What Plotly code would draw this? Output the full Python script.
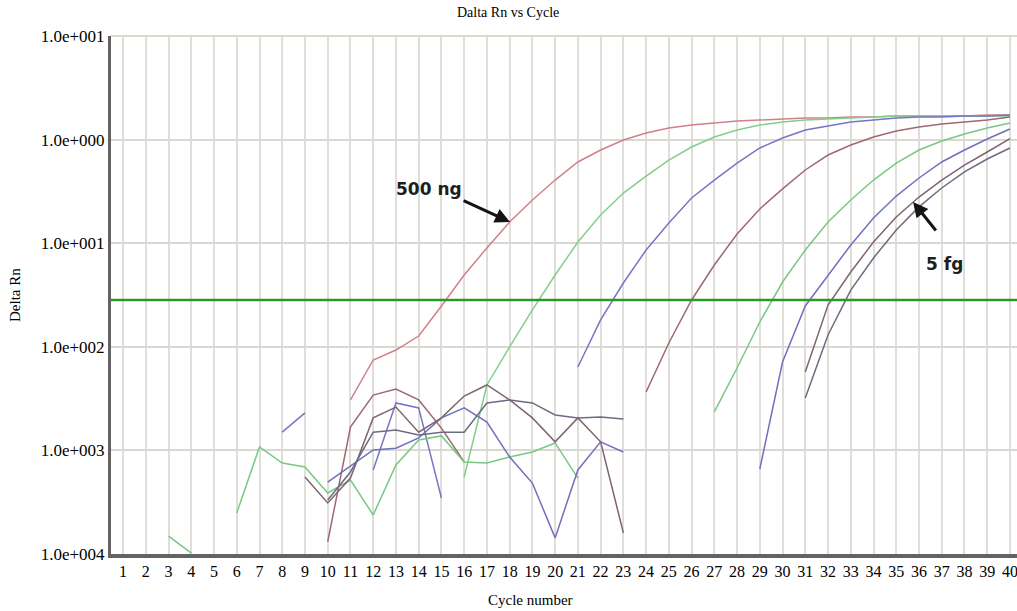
import math
import plotly.graph_objects as go

N = None
cycles = list(range(1, 41))
cycle_labels = [str(c) for c in cycles]

# Delta Rn per cycle (None = not drawn)
pink_500ng = [N]*10 + [0.00307, 0.00746, 0.00931, 0.0127, 0.0248, 0.0493, 0.0899, 0.160, 0.261, 0.407,
                       0.608, 0.794, 0.991, 1.158, 1.294, 1.383, 1.446, 1.512, 1.546, 1.580,
                       1.616, 1.616, 1.653, 1.653, 1.690, 1.690, 1.690, 1.690, 1.728, 1.728]
green_a = [N]*15 + [0.000553, 0.00428, 0.00996, 0.0227, 0.0493, 0.1027, 0.187, 0.305, 0.445, 0.635,
                    0.848, 1.060, 1.238, 1.383, 1.479, 1.546, 1.580, 1.616, 1.653, 1.690,
                    1.690, 1.690, 1.690, 1.690, 1.690]
blue_a = [N, N, N, N, N, N, N, 0.00150, 0.00230, N,
          N, 0.000647, 0.00287, 0.00257, 0.000347, N, N, N, N, N,
          0.00638, 0.01815, 0.0413, 0.0860, 0.157, 0.273, 0.407, 0.594, 0.830, 1.036,
          1.238, 1.353, 1.479, 1.546, 1.616, 1.653, 1.653, 1.690, 1.690, 1.728]
mauve = [N, N, N, N, N, N, N, N, N, 0.000131,
         0.00168, 0.00342, 0.00391, 0.00307, 0.00164, 0.000773, N, N, N, N,
         N, N, N, 0.00366, 0.01088, 0.0283, 0.0616, 0.1227, 0.214, 0.334,
         0.509, 0.710, 0.887, 1.060, 1.211, 1.323, 1.415, 1.479, 1.546, 1.653]
green_b = [N, N, 0.000149, 0.000102, N, 0.000249, 0.00108, 0.000756, 0.000692, 0.000388,
           0.000518, 0.000238, 0.000723, 0.00126, 0.00138, 0.000773, 0.000756, 0.000864, 0.000965, 0.00118,
           0.000541, N, N, N, N, N, 0.00235, 0.00624, 0.01736, 0.0422,
           0.0860, 0.160, 0.261, 0.407, 0.594, 0.794, 0.969, 1.133, 1.294, 1.446]
blue_b = [N, N, N, N, N, N, N, N, N, 0.000495,
          0.000707, 0.00101, 0.00105, 0.00132, 0.00206, 0.00257, 0.00188, 0.000864, 0.000484, 0.000143,
          0.000647, 0.00121, 0.000965, N, N, N, N, N, 0.000661, 0.00713,
          0.0248, 0.0493, 0.0961, 0.175, 0.285, 0.426, 0.608, 0.794, 1.013, 1.266]
gray_a = [N, N, N, N, N, N, N, N, 0.000553, 0.000311,
          0.000541, 0.00206, 0.00262, 0.00150, 0.00206, 0.00335, 0.00428, 0.00307, 0.00206, 0.00121,
          0.00206, 0.00121, 0.000160, N, N, N, N, N, N, N,
          0.00571, 0.0253, 0.0527, 0.1027, 0.179, 0.279, 0.407, 0.568, 0.759, 1.02]
gray_b = [N, N, N, N, N, N, N, N, N, 0.000332,
          0.000619, 0.00150, 0.00157, 0.00141, 0.00150, 0.00150, 0.00287, 0.00307, 0.00287, 0.00220,
          0.00206, 0.00210, 0.00201, N, N, N, N, N, N, N,
          0.00320, 0.0130, 0.0353, 0.0720, 0.134, 0.224, 0.341, 0.487, 0.650, 0.830]

threshold = 0.0283

y_tickvals = [10, 1, 0.1, 0.01, 0.001, 0.0001]
y_ticktext = ["1.0e+001", "1.0e+000", "1.0e+001", "1.0e+002", "1.0e+003", "1.0e+004"]

series = [
    (pink_500ng, "rgb(208,128,140)"),
    (green_a, "rgb(128,208,140)"),
    (blue_a, "rgb(118,118,200)"),
    (mauve, "rgb(158,104,116)"),
    (green_b, "rgb(120,200,132)"),
    (blue_b, "rgb(112,112,190)"),
    (gray_a, "rgb(128,100,110)"),
    (gray_b, "rgb(112,106,128)"),
]

x_range = [0.47, 40.31]
serif = "Liberation Serif"

fig = go.Figure()
for vals, col in series:
    fig.add_trace(go.Scatter(x=cycles, y=vals, mode="lines", connectgaps=False,
                             line=dict(color=col, width=1.5), showlegend=False, hoverinfo="skip"))

fig.add_trace(go.Scatter(x=x_range, y=[threshold, threshold], mode="lines",
                         line=dict(color="rgb(46,150,46)", width=2.6), showlegend=False, hoverinfo="skip"))

fig.update_layout(
    width=1017, height=611,
    margin=dict(l=111, r=0, t=36, b=57),
    paper_bgcolor="white", plot_bgcolor="white",
    showlegend=False,
    xaxis=dict(range=x_range, tickmode="array", tickvals=cycles, ticktext=cycle_labels,
               showgrid=True, gridcolor="rgb(224,222,216)", gridwidth=2,
               showline=True, linecolor="rgb(100,98,98)", linewidth=4,
               ticks="", zeroline=False, automargin=False, ticklabeloverflow="allow",
               tickfont=dict(family=serif, size=16, color="black")),
    yaxis=dict(type="log", range=[-4, 1], tickmode="array", tickvals=y_tickvals, ticktext=y_ticktext,
               showgrid=True, gridcolor="rgb(218,216,210)", gridwidth=2,
               showline=True, linecolor="rgb(100,98,98)", linewidth=3,
               ticks="", zeroline=False, automargin=False,
               tickfont=dict(family=serif, size=17, color="black")),
    shapes=[dict(type="line", xref="paper", yref="paper", x0=0, x1=1, y0=1, y1=1,
                 line=dict(color="rgb(220,216,204)", width=2))],
)

annotations = [
    dict(text="Dalta Rn vs Cycle", xref="paper", yref="paper", x=0.438, y=1.046,
         showarrow=False, font=dict(family=serif, size=14, color="black"), xanchor="center", yanchor="middle"),
    dict(text="Cycle number", xref="paper", yref="paper", x=0.4625, y=-0.089,
         showarrow=False, font=dict(family=serif, size=15, color="black"), xanchor="center", yanchor="middle"),
    dict(text="Delta Rn", xref="paper", yref="paper", x=-0.106, y=0.5, textangle=-90,
         showarrow=False, font=dict(family=serif, size=15, color="black"), xanchor="center", yanchor="middle"),
    dict(text="<b>500 ng</b>", x=14.45, y=math.log10(0.333), showarrow=False,
         font=dict(family="DejaVu Sans", size=17, color="rgb(30,30,30)")),
    dict(text="", x=18.02, y=math.log10(0.160), ax=-48, ay=-22, showarrow=True,
         arrowhead=2, arrowsize=1, arrowwidth=3, arrowcolor="rgb(20,20,20)"),
    dict(text="<b>5 fg</b>", x=37.1, y=math.log10(0.063), showarrow=False,
         font=dict(family="DejaVu Sans", size=17, color="rgb(30,30,30)")),
    dict(text="", x=35.74, y=math.log10(0.250), ax=24, ay=30, showarrow=True,
         arrowhead=2, arrowsize=1, arrowwidth=3, arrowcolor="rgb(20,20,20)"),
]
fig.update_layout(annotations=annotations)

fig.write_html("out.html", config={"displayModeBar": False},
               post_script="document.body.style.margin='0px';")
